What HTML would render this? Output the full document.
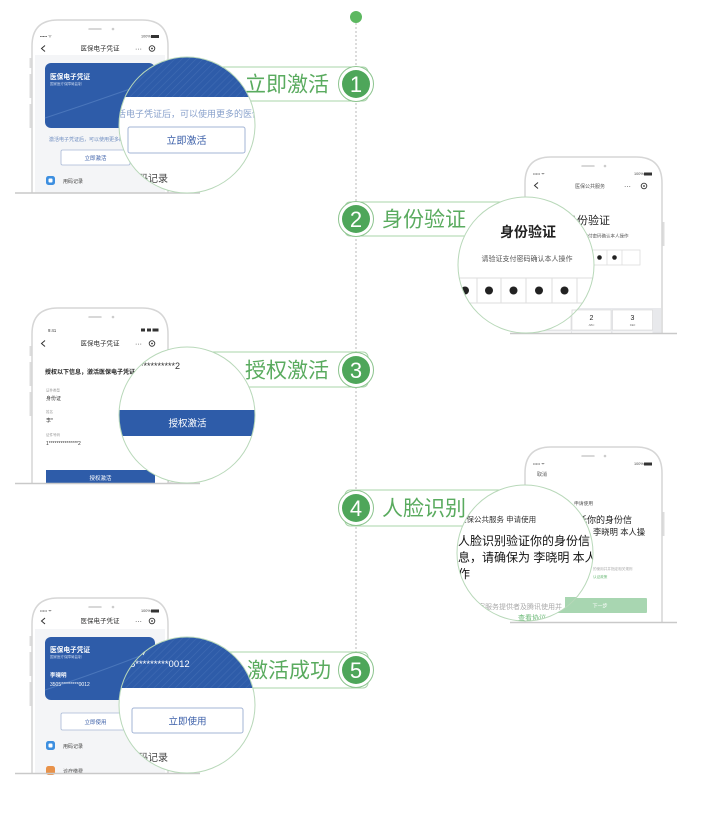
<!DOCTYPE html>
<html><head><meta charset="utf-8"><style>
html,body{margin:0;padding:0;background:#fff;}
svg{display:block;font-family:"Liberation Sans","Noto Sans CJK SC",sans-serif;}
</style></head><body>
<svg width="707" height="819" viewBox="0 0 707 819" xmlns="http://www.w3.org/2000/svg">
<defs>
<pattern id="hatch" width="5" height="5" patternUnits="userSpaceOnUse" patternTransform="rotate(45)">
<rect width="5" height="5" fill="#2e5ca9"/>
<line x1="0" y1="0" x2="0" y2="5" stroke="#406cb3" stroke-width="1.2"/>
</pattern>
<clipPath id="c1"><circle cx="187" cy="125" r="68"/></clipPath>
<clipPath id="c2"><circle cx="526" cy="265" r="68"/></clipPath>
<clipPath id="c3"><circle cx="187" cy="415" r="68"/></clipPath>
<clipPath id="c4"><circle cx="525" cy="553" r="68"/></clipPath>
<clipPath id="c5"><circle cx="187" cy="705" r="68"/></clipPath>
</defs>

<!-- timeline -->
<line x1="356" y1="23" x2="356" y2="686" stroke="#b8b8b8" stroke-width="1" stroke-dasharray="2 2"/>
<circle cx="356" cy="17" r="6" fill="#5cb860"/>

<!-- label boxes -->
<g fill="#fff" stroke="#a9d4aa" stroke-width="1">
<rect x="200" y="67" width="168" height="34" rx="5"/>
<rect x="345" y="202" width="172" height="34" rx="5"/>
<rect x="200" y="352" width="168" height="35" rx="5"/>
<rect x="345" y="490" width="172" height="36" rx="5"/>
<rect x="200" y="652" width="168" height="36" rx="5"/>
</g>
<g font-size="21" fill="#5aab5f" font-family="'Liberation Sans','Noto Sans CJK SC',sans-serif">
<text x="245" y="91.5">立即激活</text>
<text x="382" y="226.5">身份验证</text>
<text x="245" y="377.5">授权激活</text>
<text x="382" y="515.5">人脸识别</text>
<text x="247" y="677.5">激活成功</text>
</g>

<!-- ================= PHONE 1 ================= -->
<g>
<rect x="29.5" y="58" width="2.5" height="10" fill="#ddd"/>
<rect x="29.5" y="74" width="2.5" height="24" fill="#ddd"/>
<rect x="29.5" y="104" width="2.5" height="24" fill="#ddd"/>
<path d="M32,193 V46 Q32,20 58,20 H142 Q168,20 168,46 V193" fill="#fff" stroke="#d6d6d6" stroke-width="1.5"/>
<rect x="35" y="55" width="130" height="138" fill="#f4f5f7"/>
<line x1="89" y1="29" x2="101" y2="29" stroke="#ccc" stroke-width="1.5" stroke-linecap="round"/>
<circle cx="113" cy="29" r="1.3" fill="#ccc"/>
<text x="40" y="37.5" font-size="4" fill="#444">••••• ᯤ</text>
<text x="141" y="37.5" font-size="3.8" fill="#444">100%</text>
<rect x="151" y="35" width="8" height="3" fill="#333"/>
<path d="M45,45.5 L41.5,48.5 L45,51.5" fill="none" stroke="#333" stroke-width="1"/>
<text x="100" y="50.5" font-size="6.5" text-anchor="middle" fill="#333">医保电子凭证</text>
<text x="135" y="51" font-size="7" fill="#333">···</text>
<circle cx="152" cy="48.5" r="2.8" fill="none" stroke="#333" stroke-width="0.9"/>
<circle cx="152" cy="48.5" r="0.9" fill="#333"/>
<rect x="45" y="63" width="110" height="65" rx="6" fill="#2e5ca9"/>
<path d="M45,118 Q100,100 155,80" fill="none" stroke="#4a76bb" stroke-width="1"/>
<text x="50" y="79" font-size="6.7" font-weight="bold" fill="#fff">医保电子凭证</text>
<text x="50" y="85" font-size="3.5" fill="#c8d6ee">国家医疗保障局监制</text>
<text x="49" y="141" font-size="5" fill="#6d8cc0">激活电子凭证后，可以使用更多的医保服务</text>
<rect x="61" y="150" width="69" height="15" fill="#fff" stroke="#a8b8d6" stroke-width="0.8" rx="1.5"/>
<text x="95.5" y="160" font-size="5.5" text-anchor="middle" fill="#3a5ea8">立即激活</text>
<rect x="46" y="176" width="9" height="9" rx="2.5" fill="#3d8fe0"/>
<rect x="48.5" y="178.5" width="4" height="4" rx="1" fill="#fff"/>
<text x="63" y="183" font-size="5" fill="#444">用码记录</text>
<line x1="15" y1="193" x2="200" y2="193" stroke="#c9c9c9" stroke-width="1.5"/>
</g>

<!-- ================= PHONE 2 ================= -->
<g>
<rect x="662" y="222" width="2.5" height="24" fill="#ddd"/>
<path d="M525,333 V183 Q525,157 551,157 H636 Q662,157 662,183 V333" fill="#fff" stroke="#d6d6d6" stroke-width="1.5"/>
<line x1="582" y1="166" x2="594" y2="166" stroke="#ccc" stroke-width="1.5" stroke-linecap="round"/>
<circle cx="605" cy="166" r="1.3" fill="#ccc"/>
<text x="533" y="175" font-size="4" fill="#444">••••• ᯤ</text>
<text x="634" y="175" font-size="3.8" fill="#444">100%</text>
<rect x="644" y="172.5" width="8" height="3" fill="#333"/>
<path d="M538,182.5 L534.5,185.5 L538,188.5" fill="none" stroke="#333" stroke-width="1"/>
<text x="590" y="188" font-size="5" text-anchor="middle" fill="#555">医保公共服务</text>
<text x="624" y="188.5" font-size="7" fill="#333">···</text>
<circle cx="644" cy="186" r="2.8" fill="none" stroke="#333" stroke-width="0.9"/>
<circle cx="644" cy="186" r="0.9" fill="#333"/>
<text x="566" y="224" font-size="11" fill="#222">身份验证</text>
<text x="570" y="237.5" font-size="4.5" fill="#555">请验证支付密码确认本人操作</text>
<rect x="530" y="250" width="110" height="15" fill="#fff" stroke="#ddd" stroke-width="0.8"/>
<line x1="592" y1="250" x2="592" y2="265" stroke="#ddd" stroke-width="0.8"/>
<line x1="607" y1="250" x2="607" y2="265" stroke="#ddd" stroke-width="0.8"/>
<line x1="622" y1="250" x2="622" y2="265" stroke="#ddd" stroke-width="0.8"/>
<circle cx="599.5" cy="257.5" r="2.3" fill="#222"/>
<circle cx="614.5" cy="257.5" r="2.3" fill="#222"/>
<rect x="527" y="308" width="134" height="25" fill="#e8e9ec"/>
<rect x="531" y="310" width="40" height="20" fill="#fff" stroke="#d8d8d8" stroke-width="0.6"/>
<rect x="572" y="310" width="39" height="20" fill="#fff" stroke="#d8d8d8" stroke-width="0.6"/>
<rect x="612.5" y="310" width="40" height="20" fill="#fff" stroke="#d8d8d8" stroke-width="0.6"/>
<rect x="531" y="331.5" width="40" height="3" fill="#fff"/>
<rect x="572" y="331.5" width="39" height="3" fill="#fff"/>
<rect x="612.5" y="331.5" width="40" height="3" fill="#fff"/>
<text x="591.5" y="320" font-size="7" text-anchor="middle" fill="#222">2</text>
<text x="591.5" y="326" font-size="2.8" text-anchor="middle" fill="#777">ABC</text>
<text x="632.5" y="320" font-size="7" text-anchor="middle" fill="#222">3</text>
<text x="632.5" y="326" font-size="2.8" text-anchor="middle" fill="#777">DEF</text>
<line x1="510" y1="333.5" x2="677" y2="333.5" stroke="#c9c9c9" stroke-width="1.5"/>
</g>

<!-- ================= PHONE 3 ================= -->
<g>
<rect x="29.5" y="346" width="2.5" height="10" fill="#ddd"/>
<rect x="29.5" y="362" width="2.5" height="24" fill="#ddd"/>
<rect x="29.5" y="392" width="2.5" height="24" fill="#ddd"/>
<path d="M32,483 V334 Q32,308 58,308 H142 Q168,308 168,334 V483" fill="#fff" stroke="#d6d6d6" stroke-width="1.5"/>
<line x1="89" y1="317" x2="101" y2="317" stroke="#ccc" stroke-width="1.5" stroke-linecap="round"/>
<circle cx="113" cy="317" r="1.3" fill="#ccc"/>
<text x="48" y="332" font-size="4.2" fill="#333">9:41</text>
<rect x="141" y="328.5" width="4" height="3" fill="#333"/>
<rect x="147" y="328.5" width="4" height="3" fill="#333"/>
<rect x="152.5" y="328.5" width="6" height="3" fill="#333"/>
<path d="M45,340.5 L41.5,343.5 L45,346.5" fill="none" stroke="#333" stroke-width="1"/>
<text x="100" y="345.5" font-size="6.5" text-anchor="middle" fill="#333">医保电子凭证</text>
<text x="135" y="346" font-size="7" fill="#333">···</text>
<circle cx="152" cy="343.5" r="2.8" fill="none" stroke="#333" stroke-width="0.9"/>
<circle cx="152" cy="343.5" r="0.9" fill="#333"/>
<text x="45" y="374" font-size="6" font-weight="bold" fill="#222">授权以下信息，激活医保电子凭证</text>
<text x="46" y="391.5" font-size="3.5" fill="#999">证件类型</text>
<text x="46" y="400" font-size="5" fill="#333">身份证</text>
<text x="46" y="413" font-size="3.5" fill="#999">姓名</text>
<text x="46" y="422" font-size="5" fill="#333">李*</text>
<text x="46" y="436" font-size="3.5" fill="#999">证件号码</text>
<text x="46" y="445" font-size="5" fill="#333">1***************2</text>
<rect x="46" y="470" width="109" height="14" fill="#2e5ca9"/>
<text x="100.5" y="480" font-size="5.5" text-anchor="middle" fill="#fff">授权激活</text>
<text x="168" y="482" font-size="4" fill="#aaa">已阅读并同意</text>
<line x1="15" y1="483.5" x2="200" y2="483.5" stroke="#c9c9c9" stroke-width="1.5"/>
</g>

<!-- ================= PHONE 4 ================= -->
<g>
<rect x="662" y="512" width="2.5" height="24" fill="#ddd"/>
<path d="M525,622 V473 Q525,447 551,447 H636 Q662,447 662,473 V622" fill="#fff" stroke="#d6d6d6" stroke-width="1.5"/>
<line x1="582" y1="456" x2="594" y2="456" stroke="#ccc" stroke-width="1.5" stroke-linecap="round"/>
<circle cx="605" cy="456" r="1.3" fill="#ccc"/>
<text x="533" y="465" font-size="4" fill="#444">••••• ᯤ</text>
<text x="634" y="465" font-size="3.8" fill="#444">100%</text>
<rect x="644" y="462.5" width="8" height="3" fill="#333"/>
<text x="537" y="476" font-size="5" fill="#555">取消</text>
<text x="574" y="505" font-size="4.8" fill="#555">申请使用</text>
<text x="578" y="523" font-size="9" fill="#222">托你的身份信</text>
<text x="593" y="535" font-size="8.3" fill="#222">李晓明 本人操</text>
<text x="593" y="570" font-size="3.6" fill="#aaa">的使用并并指定相关规则</text>
<text x="593" y="578" font-size="3.6" fill="#6cba78">认证政策</text>
<rect x="540" y="598" width="107" height="15" rx="1" fill="#a8d6b1"/>
<text x="600" y="607.5" font-size="5" text-anchor="middle" fill="#fff">下一步</text>
<line x1="510" y1="622.5" x2="677" y2="622.5" stroke="#c9c9c9" stroke-width="1.5"/>
</g>

<!-- ================= PHONE 5 ================= -->
<g>
<rect x="29.5" y="636" width="2.5" height="10" fill="#ddd"/>
<rect x="29.5" y="652" width="2.5" height="24" fill="#ddd"/>
<rect x="29.5" y="682" width="2.5" height="24" fill="#ddd"/>
<path d="M32,773 V624 Q32,598 58,598 H142 Q168,598 168,624 V773" fill="#fff" stroke="#d6d6d6" stroke-width="1.5"/>
<rect x="35" y="629" width="130" height="144" fill="#f4f5f7"/>
<line x1="89" y1="607" x2="101" y2="607" stroke="#ccc" stroke-width="1.5" stroke-linecap="round"/>
<circle cx="113" cy="607" r="1.3" fill="#ccc"/>
<text x="40" y="612" font-size="4" fill="#444">••••• ᯤ</text>
<text x="141" y="612" font-size="3.8" fill="#444">100%</text>
<rect x="151" y="609.5" width="8" height="3" fill="#333"/>
<path d="M45,618 L41.5,621 L45,624" fill="none" stroke="#333" stroke-width="1"/>
<text x="100" y="623" font-size="6.5" text-anchor="middle" fill="#333">医保电子凭证</text>
<text x="135" y="623.5" font-size="7" fill="#333">···</text>
<circle cx="152" cy="621" r="2.8" fill="none" stroke="#333" stroke-width="0.9"/>
<circle cx="152" cy="621" r="0.9" fill="#333"/>
<rect x="45" y="637" width="110" height="63" rx="6" fill="#2e5ca9"/>
<path d="M45,690 Q100,672 155,650" fill="none" stroke="#4a76bb" stroke-width="1"/>
<text x="50" y="652" font-size="6.7" font-weight="bold" fill="#fff">医保电子凭证</text>
<text x="50" y="658" font-size="3.5" fill="#c8d6ee">国家医疗保障局监制</text>
<text x="50" y="677" font-size="5.5" font-weight="bold" fill="#fff">李晓明</text>
<text x="50" y="686" font-size="5" fill="#fff">3505*********0012</text>
<rect x="61" y="713" width="69" height="17" fill="#fff" stroke="#a8b8d6" stroke-width="0.8" rx="1.5"/>
<text x="95.5" y="724" font-size="5.5" text-anchor="middle" fill="#3a5ea8">立即使用</text>
<rect x="46" y="741" width="9" height="9" rx="2.5" fill="#3d8fe0"/>
<rect x="48.5" y="743.5" width="4" height="4" rx="1" fill="#fff"/>
<text x="63" y="748" font-size="5" fill="#444">用码记录</text>
<rect x="46" y="766" width="9" height="9" rx="2.5" fill="#e8924a"/>
<text x="63" y="773" font-size="5" fill="#444">诊疗缴费</text>
<line x1="15" y1="773.5" x2="200" y2="773.5" stroke="#c9c9c9" stroke-width="1.5"/>
</g>

<!-- ================= MAGNIFIER 1 ================= -->
<g clip-path="url(#c1)">
<rect x="110" y="50" width="160" height="150" fill="#fff"/>
<rect x="110" y="50" width="160" height="47" fill="url(#hatch)"/>
<text x="117" y="117" font-size="9" fill="#8aa2cc">活电子凭证后，可以使用更多的医保服务</text>
<rect x="128" y="127" width="117" height="26" rx="2" fill="#fff" stroke="#a3b4d6" stroke-width="1"/>
<text x="186.5" y="144" font-size="10" text-anchor="middle" fill="#3a5ea8">立即激活</text>
<text x="128" y="182" font-size="10" fill="#444">用码记录</text>
</g>
<circle cx="187" cy="125" r="68" fill="none" stroke="#b8d8b9" stroke-width="1"/>

<!-- ================= MAGNIFIER 2 ================= -->
<g clip-path="url(#c2)">
<rect x="455" y="195" width="145" height="140" fill="#fff"/>
<text x="528" y="237" font-size="14" font-weight="bold" text-anchor="middle" fill="#222">身份验证</text>
<text x="527" y="261" font-size="7" text-anchor="middle" fill="#555">请验证支付密码确认本人操作</text>
<rect x="430" y="278" width="175" height="25" fill="#fff" stroke="#ddd" stroke-width="1"/>
<g stroke="#ddd" stroke-width="1">
<line x1="453" y1="278" x2="453" y2="303"/>
<line x1="477" y1="278" x2="477" y2="303"/>
<line x1="501" y1="278" x2="501" y2="303"/>
<line x1="526" y1="278" x2="526" y2="303"/>
<line x1="552" y1="278" x2="552" y2="303"/>
<line x1="577" y1="278" x2="577" y2="303"/>
</g>
<g fill="#222">
<circle cx="465" cy="290.5" r="4"/>
<circle cx="489" cy="290.5" r="4"/>
<circle cx="513.5" cy="290.5" r="4"/>
<circle cx="539" cy="290.5" r="4"/>
<circle cx="564.5" cy="290.5" r="4"/>
</g>
<rect x="572" y="310" width="40" height="20" fill="#fff" stroke="#d8d8d8" stroke-width="0.8"/>
<rect x="572" y="331" width="40" height="10" fill="#fff" stroke="#d8d8d8" stroke-width="0.8"/>
</g>
<circle cx="526" cy="265" r="68" fill="none" stroke="#b8d8b9" stroke-width="1"/>

<!-- ================= MAGNIFIER 3 ================= -->
<g clip-path="url(#c3)">
<rect x="110" y="340" width="160" height="150" fill="#fff"/>
<text x="140" y="369" font-size="9" fill="#333">**********2</text>
<rect x="110" y="410" width="160" height="26" fill="#2e5ca9"/>
<text x="187.5" y="426.5" font-size="9.5" text-anchor="middle" fill="#fff">授权激活</text>
</g>
<circle cx="187" cy="415" r="68" fill="none" stroke="#b8d8b9" stroke-width="1"/>

<!-- ================= MAGNIFIER 4 ================= -->
<g clip-path="url(#c4)">
<rect x="455" y="480" width="145" height="145" fill="#fff"/>
<text x="459" y="522" font-size="7.5" fill="#333">医保公共服务 申请使用</text>
<text x="458" y="545" font-size="12" fill="#111">人脸识别验证你的身份信</text>
<text x="458" y="561.5" font-size="12" fill="#111">息，请确保为 李晓明 本人操</text>
<text x="458" y="578" font-size="12" fill="#111">作</text>
<text x="478" y="609" font-size="7" fill="#aaa">家服务提供者及腾讯使用并</text>
<text x="518" y="620" font-size="7" fill="#6cba78">查看协议</text>
<rect x="565" y="597" width="40" height="16" fill="#a8d6b1"/>
</g>
<circle cx="525" cy="553" r="68" fill="none" stroke="#b8d8b9" stroke-width="1"/>

<!-- ================= MAGNIFIER 5 ================= -->
<g clip-path="url(#c5)">
<rect x="110" y="630" width="160" height="150" fill="#fff"/>
<rect x="110" y="630" width="160" height="58" fill="url(#hatch)"/>
<path d="M143,655 L146,650" stroke="#fff" stroke-width="0.8"/>
<text x="130" y="667" font-size="9.5" fill="#fff">5*********0012</text>
<rect x="132" y="708" width="111" height="25" rx="2" fill="#fff" stroke="#a3b4d6" stroke-width="1"/>
<text x="187.5" y="724.5" font-size="9.5" text-anchor="middle" fill="#3a5ea8">立即使用</text>
<text x="128" y="761" font-size="10" fill="#444">用码记录</text>
</g>
<circle cx="187" cy="705" r="68" fill="none" stroke="#b8d8b9" stroke-width="1"/>

<!-- number badges -->
<g font-family="'Liberation Sans',sans-serif" font-size="22" text-anchor="middle" fill="#fff">
<circle cx="356" cy="84" r="17.5" fill="#fff" stroke="#8cc48e" stroke-width="1"/>
<circle cx="356" cy="84" r="14" fill="#4ea65a"/>
<text x="356" y="92">1</text>
<circle cx="356" cy="219" r="17.5" fill="#fff" stroke="#8cc48e" stroke-width="1"/>
<circle cx="356" cy="219" r="14" fill="#4ea65a"/>
<text x="356" y="227">2</text>
<circle cx="356" cy="370" r="17.5" fill="#fff" stroke="#8cc48e" stroke-width="1"/>
<circle cx="356" cy="370" r="14" fill="#4ea65a"/>
<text x="356" y="378">3</text>
<circle cx="356" cy="508" r="17.5" fill="#fff" stroke="#8cc48e" stroke-width="1"/>
<circle cx="356" cy="508" r="14" fill="#4ea65a"/>
<text x="356" y="516">4</text>
<circle cx="356" cy="670" r="17.5" fill="#fff" stroke="#8cc48e" stroke-width="1"/>
<circle cx="356" cy="670" r="14" fill="#4ea65a"/>
<text x="356" y="678">5</text>
</g>
</svg>
</body></html>
